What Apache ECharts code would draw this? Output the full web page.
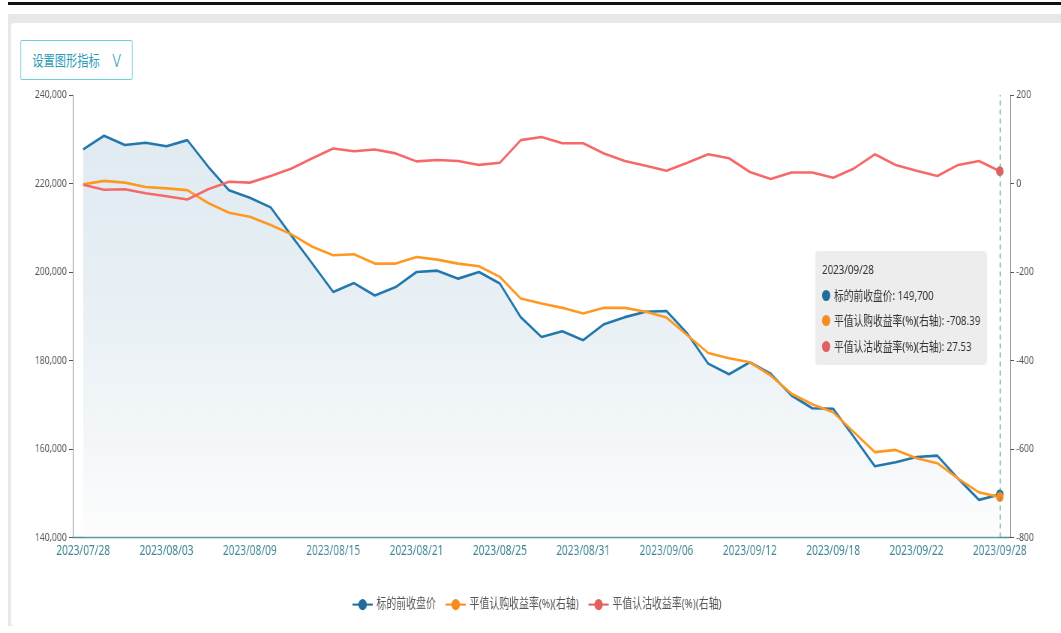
<!DOCTYPE html>
<html>
<head>
<meta charset="utf-8">
<script src="https://cdn.jsdelivr.net/npm/echarts@6/dist/echarts.min.js"></script>
<style>
  html, body { margin:0; padding:0; background:#fff; width:1061px; height:633px; overflow:hidden; }
  #topline { position:absolute; left:8px; top:2px; width:1053px; height:3px; background:#111; }
  #graybox { position:absolute; left:8px; top:14px; width:1053px; height:612px; background:#e8e8e8; }
  #card { position:absolute; left:11px; top:23px; width:1060px; height:603px; background:#fff; border-radius:4px; }
  #wrap { position:absolute; left:0; top:0; width:1415px; height:633px; transform:scaleX(0.75); transform-origin:0 0; }
  #chart { position:absolute; left:0; top:0; width:1415px; height:633px; }
  #btn { position:absolute; left:27px; top:40px; width:148px; height:38px; border:1px solid #5cc6d8; border-radius:2px;
         box-sizing:content-box; color:#2a9bb5; font-family:'Noto Sans CJK SC', sans-serif; font-size:15px; line-height:38px;
         z-index:5; background:#fff; }
  #btn .t { position:absolute; left:15px; top:0; }
  #btn .v { position:absolute; left:122px; top:0; font-family:'Noto Sans', sans-serif; font-weight:300; font-size:19px; }
</style>
</head>
<body>
<div id="topline"></div>
<div id="graybox"></div>
<div id="card"></div>
<div id="wrap">
  <div id="chart"></div>
  <div id="btn"><span class="t">设置图形指标</span><span class="v">V</span></div>
</div>
<script>
const dates = ['2023/07/28','2023/07/31','2023/08/01','2023/08/02','2023/08/03','2023/08/04','2023/08/07','2023/08/08','2023/08/09','2023/08/10','2023/08/11','2023/08/14','2023/08/15','2023/08/16','2023/08/17','2023/08/18','2023/08/21','2023/08/22','2023/08/23','2023/08/24','2023/08/25','2023/08/28','2023/08/29','2023/08/30','2023/08/31','2023/09/01','2023/09/04','2023/09/05','2023/09/06','2023/09/07','2023/09/08','2023/09/11','2023/09/12','2023/09/13','2023/09/14','2023/09/15','2023/09/18','2023/09/19','2023/09/20','2023/09/21','2023/09/22','2023/09/25','2023/09/26','2023/09/27','2023/09/28'];

const seriesNames = ['标的前收盘价', '平值认购收益率(%)(右轴)', '平值认沽收益率(%)(右轴)'];

const prevClose = [227700, 230800, 228700, 229200, 228400, 229800, 223800, 218500, 216800, 214600,
  208200, 201900, 195500, 197500, 194700, 196600, 200000, 200300, 198500, 200000,
  197400, 189800, 185300, 186600, 184600, 188200, 189800, 191000, 191200, 186100,
  179300, 176900, 179600, 177000, 172100, 169200, 169100, 162700, 156100, 157000,
  158200, 158500, 153300, 148500, 149700];

const callReturn = [-2, 6, 2, -8, -11, -15, -44, -66, -75, -94,
  -115, -143, -162, -160, -181, -181, -166, -172, -181, -187,
  -211, -260, -271, -281, -294, -281, -281, -290, -303, -343,
  -383, -395, -404, -434, -475, -499, -517, -562, -607, -602,
  -621, -632, -667, -698, -708.39];

const putReturn = [-3, -14, -13, -22, -29, -36, -13, 4, 2, 17,
  34, 57, 79, 73, 77, 68, 50, 53, 51, 42,
  47, 98, 105, 91, 91, 68, 51, 40, 29, 47,
  66, 57, 26, 10, 25, 25, 13, 34, 66, 42,
  29, 17, 42, 51, 27.53];

const leftTicks = { min: 140000, max: 240000, interval: 20000 };
const rightTicks = { min: -800, max: 200, interval: 200 };

const colors = ['#1f6d9c', '#f68b1f', '#e0605f'];
const font = "'Noto Sans', 'Noto Sans CJK SC', sans-serif";

const chart = echarts.init(document.getElementById('chart'));

function fmtVal(i, v) {
  if (i === 0) return Number(v).toLocaleString('en-US');
  return String(v);
}

const option = {
  animation: false,
  color: colors,
  textStyle: { fontFamily: font },
  grid: { left: 97, right: 68, top: 95, bottom: 95.5, containLabel: false },
  legend: {
    data: seriesNames,
    top: 593,
    left: 464,
    itemWidth: 27,
    itemHeight: 14,
    itemGap: 12,
    textStyle: { color: '#555', fontSize: 13.2, fontFamily: font }
  },
  tooltip: {
    trigger: 'axis',
    triggerOn: 'none',
    alwaysShowContent: true,
    transitionDuration: 0,
    position: [1087, 251],
    backgroundColor: 'rgba(236,236,236,0.97)',
    borderWidth: 0,
    padding: [6, 9],
    extraCssText: 'box-shadow:none;border-radius:4px;',
    textStyle: { color: '#333', fontSize: 13, fontFamily: font },
    axisPointer: {
      type: 'line',
      lineStyle: { color: '#5a95a3', type: [5, 4], width: 1.3 }
    },
    formatter: function (params) {
      let s = '<div style="line-height:25.5px;">' + params[0].axisValue + '</div>';
      params.forEach(function (p) {
        s += '<div style="line-height:25.5px;white-space:nowrap;">' +
          '<span style="display:inline-block;width:11px;height:11px;border-radius:50%;background:' + p.color +
          ';margin-right:5px;vertical-align:-1px;"></span>' +
          p.seriesName + ': ' + fmtVal(p.seriesIndex, p.value) + '</div>';
      });
      return s;
    }
  },
  xAxis: {
    type: 'category',
    data: dates,
    boundaryGap: true,
    axisLine: { onZero: false, lineStyle: { color: '#4b8d9c', width: 1.3 } },
    axisTick: { interval: 3, length: 5, lineStyle: { color: '#4b8d9c' } },
    axisLabel: { interval: 3, color: '#3f8793', fontSize: 13.5, margin: 7, fontFamily: font },
    splitLine: { show: false }
  },
  yAxis: [
    {
      type: 'value',
      min: leftTicks.min, max: leftTicks.max, interval: leftTicks.interval,
      axisLine: { show: true, lineStyle: { color: '#8a8a8a' } },
      axisTick: { show: true, length: 5, lineStyle: { color: '#555' } },
      axisLabel: { color: '#555', fontSize: 11.5, margin: 8, fontFamily: font },
      splitLine: { show: false }
    },
    {
      type: 'value',
      position: 'right',
      min: rightTicks.min, max: rightTicks.max, interval: rightTicks.interval,
      axisLine: { show: true, lineStyle: { color: '#8a8a8a' } },
      axisTick: { show: true, length: 5, lineStyle: { color: '#555' } },
      axisLabel: { color: '#555', fontSize: 11.5, margin: 8, fontFamily: font },
      splitLine: { show: false }
    }
  ],
  series: [
    {
      name: seriesNames[0], type: 'line', yAxisIndex: 0, data: prevClose,
      showSymbol: false, symbol: 'circle', symbolSize: 10,
      lineStyle: { width: 2.6, color: colors[0] },
      itemStyle: { color: colors[0] },
      emphasis: { scale: false, lineStyle: { width: 2.6 } },
      areaStyle: {
        color: new echarts.graphic.LinearGradient(0, 0, 0, 1, [
          { offset: 0, color: 'rgba(31,100,145,0.2)' },
          { offset: 1, color: 'rgba(225,225,225,0.3)' }
        ])
      }
    },
    {
      name: seriesNames[1], type: 'line', yAxisIndex: 1, data: callReturn,
      showSymbol: false, symbol: 'circle', symbolSize: 10,
      lineStyle: { width: 2.6, color: colors[1] },
      itemStyle: { color: colors[1] },
      emphasis: { scale: false, lineStyle: { width: 2.6 } }
    },
    {
      name: seriesNames[2], type: 'line', yAxisIndex: 1, data: putReturn,
      showSymbol: false, symbol: 'circle', symbolSize: 10,
      lineStyle: { width: 2.6, color: colors[2] },
      itemStyle: { color: colors[2] },
      emphasis: { scale: false, lineStyle: { width: 2.6 } }
    }
  ]
};

chart.setOption(option);
chart.dispatchAction({ type: 'showTip', seriesIndex: 0, dataIndex: dates.length - 1 });
</script>
</body>
</html>
